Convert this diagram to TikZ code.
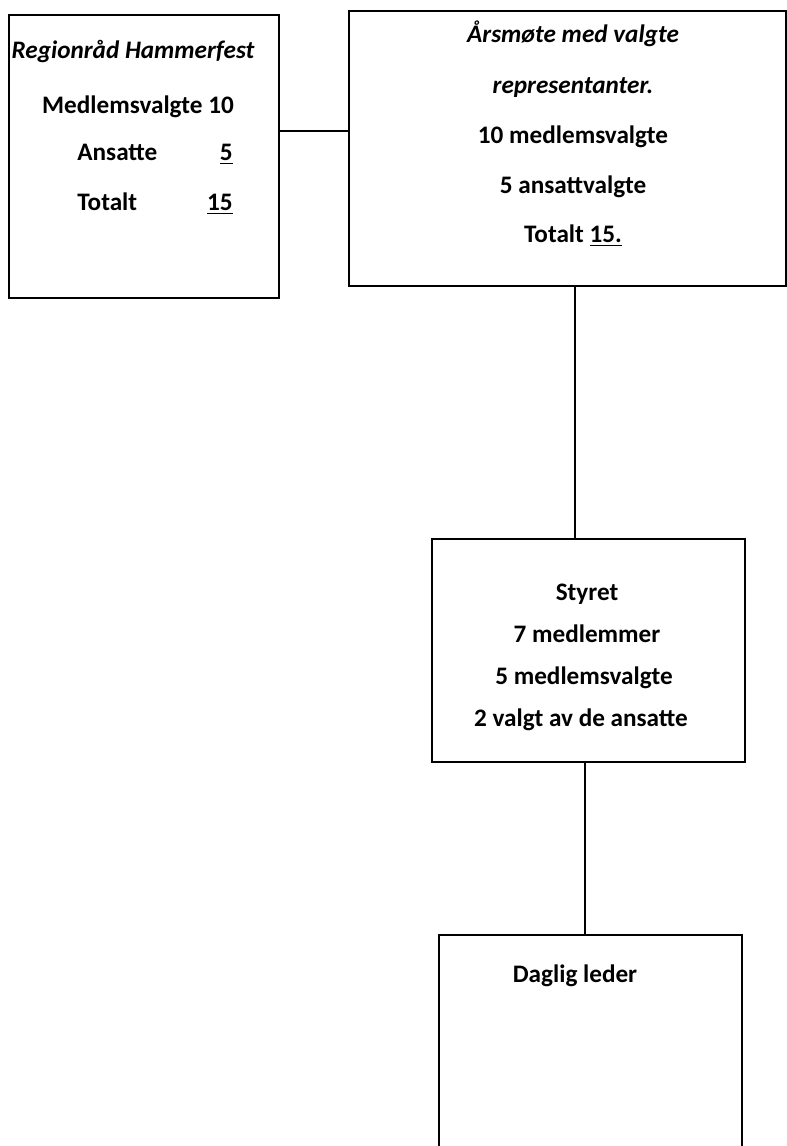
\documentclass[tikz,border=0pt]{standalone}
\usepackage{fontspec}
\setmainfont{Carlito}
\usepackage{tikz}
\usetikzlibrary{positioning}

\begin{document}
\begin{tikzpicture}[x=0.5pt,y=-0.5pt,
 box/.style={draw,line width=1pt,rectangle,inner sep=0pt},
 txt/.style={anchor=base,inner sep=0pt,font=\fontsize{12.6}{14}\selectfont\bfseries},
 link/.style={line width=0.6pt}]
 \useasboundingbox (0,0) rectangle (787,1146);
 % boxes
 \node[box,minimum width=135pt,minimum height=141.5pt] (region) at (144,156.5) {};
 \node[box,minimum width=218.5pt,minimum height=137.5pt] (aarsmote) at (567.5,148.5) {};
 \node[box,minimum width=156.5pt,minimum height=111.5pt] (styret) at (588.5,650.5) {};
 \node[box,minimum width=151.5pt,minimum height=132.5pt] (leder) at (590.5,1067.5) {};
 % text
 \node[txt] (r1) at (133,58) {\itshape Regionråd Hammerfest};
 \node[txt] (r2) at (138,113) {Medlemsvalgte 10};
 \node[txt,anchor=base west] (r3) at (77,160) {Ansatte};
 \node[txt,anchor=base east] (r4) at (233,160) {\underline{5}};
 \node[txt,anchor=base west] (r5) at (77,210) {Totalt};
 \node[txt,anchor=base east] (r6) at (233,210) {\underline{15}};
 \node[txt] (a1) at (573,42) {\itshape Årsmøte med valgte};
 \node[txt] (a2) at (573,93) {\itshape representanter.};
 \node[txt] (a3) at (573,143) {10 medlemsvalgte};
 \node[txt] (a4) at (573,193) {5 ansattvalgte};
 \node[txt] (a5) at (573,242) {Totalt \underline{15.}};
 \node[txt] (s1) at (587,600) {Styret};
 \node[txt] (s2) at (587,642) {7 medlemmer};
 \node[txt] (s3) at (584,684) {5 medlemsvalgte};
 \node[txt] (s4) at (581,726) {2 valgt av de ansatte};
 \node[txt] (l1) at (575,982) {Daglig leder};
 % connectors
 \draw[link] ([yshift=12.75pt]region.east) coordinate (rr) -- (rr -| aarsmote.west);
 \draw[link] ([xshift=3.75pt]aarsmote.south) coordinate (aa) -- (aa |- styret.north);
 \draw[link] ([xshift=-1.75pt]styret.south) coordinate (ss) -- (ss |- leder.north);
\end{tikzpicture}
\end{document}
